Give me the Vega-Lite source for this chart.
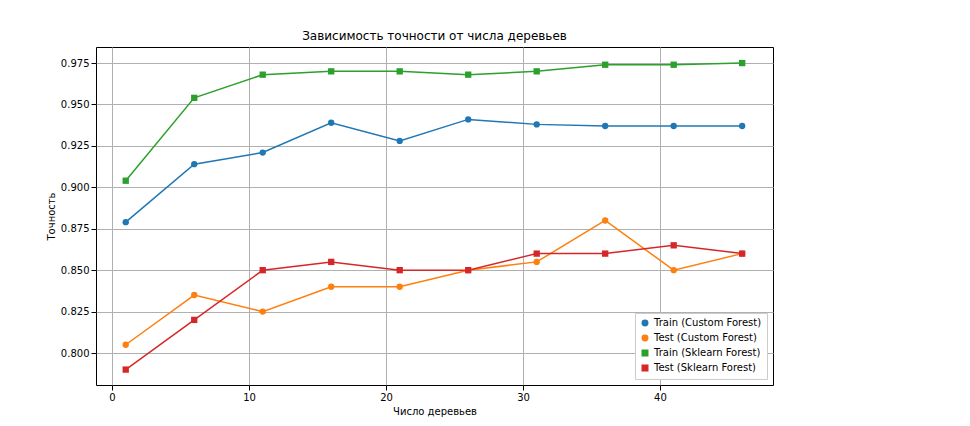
{
  "$schema": "https://vega.github.io/schema/vega-lite/v6.json",
  "width": 677,
  "height": 338,
  "autosize": {"type": "none"},
  "padding": {"left": 96, "top": 47, "right": 197, "bottom": 41},
  "background": "white",
  "config": {
    "font": "DejaVu Sans",
    "view": {"stroke": "black", "strokeWidth": 1},
    "axis": {"labelFontSize": 10, "titleFontSize": 10, "titleFontWeight": "normal", "gridColor": "#b0b0b0", "gridOpacity": 1, "domain": false, "tickColor": "black", "labelColor": "black", "titleColor": "black"}
  },
  "title": {"text": "Зависимость точности от числа деревьев", "fontSize": 12, "fontWeight": "normal", "offset": 4},
  "data": {"values": [
    {"n": 1, "s": "Train (Custom Forest)", "acc": 0.879},
    {"n": 6, "s": "Train (Custom Forest)", "acc": 0.914},
    {"n": 11, "s": "Train (Custom Forest)", "acc": 0.921},
    {"n": 16, "s": "Train (Custom Forest)", "acc": 0.939},
    {"n": 21, "s": "Train (Custom Forest)", "acc": 0.928},
    {"n": 26, "s": "Train (Custom Forest)", "acc": 0.941},
    {"n": 31, "s": "Train (Custom Forest)", "acc": 0.938},
    {"n": 36, "s": "Train (Custom Forest)", "acc": 0.937},
    {"n": 41, "s": "Train (Custom Forest)", "acc": 0.937},
    {"n": 46, "s": "Train (Custom Forest)", "acc": 0.937},
    {"n": 1, "s": "Test (Custom Forest)", "acc": 0.805},
    {"n": 6, "s": "Test (Custom Forest)", "acc": 0.835},
    {"n": 11, "s": "Test (Custom Forest)", "acc": 0.825},
    {"n": 16, "s": "Test (Custom Forest)", "acc": 0.84},
    {"n": 21, "s": "Test (Custom Forest)", "acc": 0.84},
    {"n": 26, "s": "Test (Custom Forest)", "acc": 0.85},
    {"n": 31, "s": "Test (Custom Forest)", "acc": 0.855},
    {"n": 36, "s": "Test (Custom Forest)", "acc": 0.88},
    {"n": 41, "s": "Test (Custom Forest)", "acc": 0.85},
    {"n": 46, "s": "Test (Custom Forest)", "acc": 0.86},
    {"n": 1, "s": "Train (Sklearn Forest)", "acc": 0.904},
    {"n": 6, "s": "Train (Sklearn Forest)", "acc": 0.954},
    {"n": 11, "s": "Train (Sklearn Forest)", "acc": 0.968},
    {"n": 16, "s": "Train (Sklearn Forest)", "acc": 0.970},
    {"n": 21, "s": "Train (Sklearn Forest)", "acc": 0.970},
    {"n": 26, "s": "Train (Sklearn Forest)", "acc": 0.968},
    {"n": 31, "s": "Train (Sklearn Forest)", "acc": 0.970},
    {"n": 36, "s": "Train (Sklearn Forest)", "acc": 0.974},
    {"n": 41, "s": "Train (Sklearn Forest)", "acc": 0.974},
    {"n": 46, "s": "Train (Sklearn Forest)", "acc": 0.975},
    {"n": 1, "s": "Test (Sklearn Forest)", "acc": 0.79},
    {"n": 6, "s": "Test (Sklearn Forest)", "acc": 0.82},
    {"n": 11, "s": "Test (Sklearn Forest)", "acc": 0.85},
    {"n": 16, "s": "Test (Sklearn Forest)", "acc": 0.855},
    {"n": 21, "s": "Test (Sklearn Forest)", "acc": 0.85},
    {"n": 26, "s": "Test (Sklearn Forest)", "acc": 0.85},
    {"n": 31, "s": "Test (Sklearn Forest)", "acc": 0.86},
    {"n": 36, "s": "Test (Sklearn Forest)", "acc": 0.86},
    {"n": 41, "s": "Test (Sklearn Forest)", "acc": 0.865},
    {"n": 46, "s": "Test (Sklearn Forest)", "acc": 0.86}
  ]},
  "mark": {"type": "line", "point": {"filled": true, "size": 40, "opacity": 1}, "strokeWidth": 1.5},
  "encoding": {
    "x": {"field": "n", "type": "quantitative", "title": "Число деревьев", "scale": {"domain": [-1.17, 48.25], "nice": false, "zero": false}, "axis": {"values": [0, 10, 20, 30, 40]}},
    "y": {"field": "acc", "type": "quantitative", "title": "Точность", "scale": {"domain": [0.7807, 0.9847], "nice": false, "zero": false}, "axis": {"values": [0.8, 0.825, 0.85, 0.875, 0.9, 0.925, 0.95, 0.975], "format": ".3f"}},
    "color": {"field": "s", "type": "nominal", "title": null,
      "scale": {"domain": ["Train (Custom Forest)", "Test (Custom Forest)", "Train (Sklearn Forest)", "Test (Sklearn Forest)"], "range": ["#1f77b4", "#ff7f0e", "#2ca02c", "#d62728"]},
      "legend": {"orient": "bottom-right", "labelFontSize": 10, "fillColor": "white", "strokeColor": "#cccccc", "padding": 5, "offset": 6, "symbolSize": 30, "rowPadding": 3, "labelColor": "black", "symbolOpacity": 1}},
    "shape": {"field": "s", "type": "nominal",
      "scale": {"domain": ["Train (Custom Forest)", "Test (Custom Forest)", "Train (Sklearn Forest)", "Test (Sklearn Forest)"], "range": ["circle", "circle", "square", "square"]},
      "legend": null}
  }
}
